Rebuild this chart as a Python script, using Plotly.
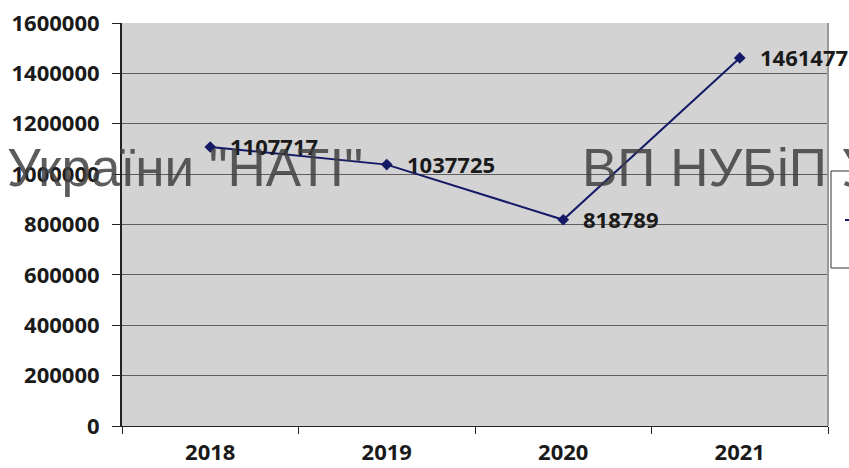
import plotly.graph_objects as go

years = ["2018", "2019", "2020", "2021"]
values = [1107717, 1037725, 818789, 1461477]
y_ticks = [0, 200000, 400000, 600000, 800000, 1000000, 1200000, 1400000, 1600000]

W, H = 849, 468
L, R, T, B = 122, 21, 23, 42
pw, ph = W - L - R, H - T - B

def px_x(p):
    return (p - L) / pw

def px_y(p):
    return (H - B - p) / ph

navy = "#141a66"
tick_font = dict(family="Open Sans, Liberation Sans, sans-serif", size=22, color="#1a1a1a", weight="bold")

fig = go.Figure()
fig.add_trace(go.Scatter(
    x=years, y=values, mode="lines+markers",
    line=dict(color=navy, width=2),
    marker=dict(symbol="diamond", size=9, color=navy),
    showlegend=False, cliponaxis=False, hoverinfo="skip",
))

annotations = []
for i, v in enumerate(values):
    annotations.append(dict(
        x=i, y=v, xref="x", yref="y", text=str(v), showarrow=False,
        xanchor="left", yanchor="middle", xshift=18, yshift=1,
        font=tick_font,
    ))

wm_font = dict(family="Liberation Sans, Arial, sans-serif", size=53, color="rgba(64,64,64,0.85)")
annotations.append(dict(
    x=px_x(5), y=px_y(167), xref="paper", yref="paper", text='України "НАТІ"',
    showarrow=False, xanchor="left", yanchor="middle", font=wm_font,
))
annotations.append(dict(
    x=px_x(580), y=px_y(167), xref="paper", yref="paper", text='ВП НУБіП У',
    showarrow=False, xanchor="left", yanchor="middle", font=wm_font,
))

shapes = [
    dict(type="line", xref="paper", yref="paper", x0=1, x1=1, y0=0, y1=1,
         line=dict(color="#9a9a9a", width=2)),
    dict(type="rect", xref="paper", yref="paper", x0=px_x(831), x1=px_x(870),
         y0=px_y(268), y1=px_y(171), fillcolor="white", line=dict(color="#333333", width=1),
         layer="above"),
    dict(type="line", xref="paper", yref="paper", x0=px_x(845), x1=px_x(852),
         y0=px_y(220), y1=px_y(220), line=dict(color=navy, width=2), layer="above"),
]

fig.update_layout(
    width=W, height=H,
    margin=dict(l=L, r=R, t=T, b=B, autoexpand=False),
    paper_bgcolor="white",
    plot_bgcolor="#d3d3d3",
    annotations=annotations,
    shapes=shapes,
    xaxis=dict(
        type="category", range=[-0.5, 3.5], tickson="boundaries",
        showgrid=False, ticks="outside", ticklen=7, tickcolor="#222222",
        showline=True, linecolor="#222222", linewidth=1,
        tickfont=tick_font, zeroline=False, automargin=False,
        ticklabelstandoff=7,
    ),
    yaxis=dict(
        range=[0, 1600000], tickvals=y_ticks, ticktext=[str(t) for t in y_ticks],
        showgrid=True, gridcolor="#5f5f5f", gridwidth=1,
        ticks="outside", ticklen=8, tickcolor="#222222",
        showline=True, linecolor="#222222", linewidth=2,
        tickfont=tick_font, zeroline=False, automargin=False,
        ticklabelstandoff=8,
    ),
)

fig.write_html(
    "out.html",
    config={"displayModeBar": False},
    post_script="document.body.style.margin='0';document.body.style.overflow='hidden';",
)
